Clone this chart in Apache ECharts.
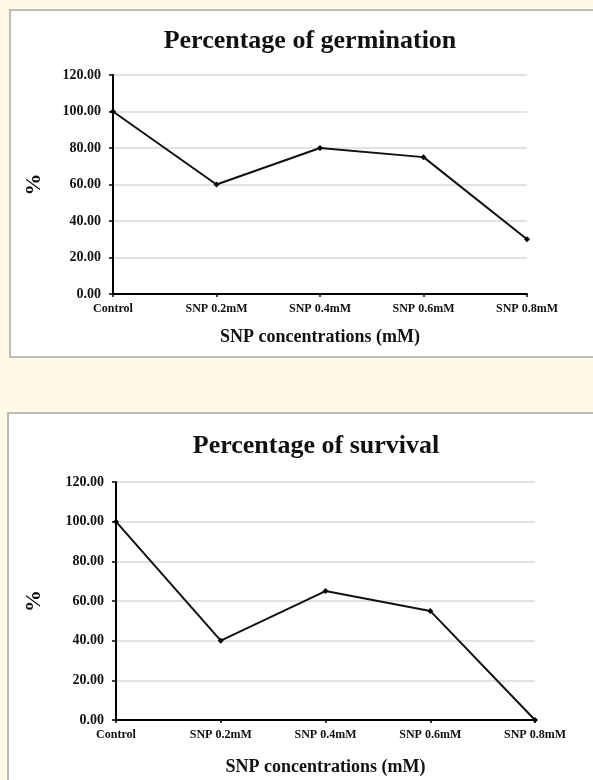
<!DOCTYPE html>
<html><head><meta charset="utf-8">
<script src="https://cdn.jsdelivr.net/npm/echarts@6/dist/echarts.min.js"></script>
<style>html,body{margin:0;padding:0;background:#FFFAE6;}#c{width:593px;height:780px;}</style>
</head><body><div id="c"></div>
<script>
const categories = ['Control', 'SNP 0.2mM', 'SNP 0.4mM', 'SNP 0.6mM', 'SNP 0.8mM'];
const germination = [100, 60, 80, 75, 30];
const survival = [100, 40, 65, 55, 0];
const titles = ['Percentage of germination', 'Percentage of survival'];
const xName = 'SNP concentrations (mM)';
const yName = '%';

const F = 'Liberation Serif';
const chart = echarts.init(document.getElementById('c'), null, {renderer: 'canvas'});

function xAxis(gi, gap) {
  return {
    type: 'category', gridIndex: gi, data: categories, boundaryGap: false,
    axisLine: {lineStyle: {color: '#000', width: 2}},
    axisTick: {show: true, alignWithLabel: true, length: 3, lineStyle: {color: '#000', width: 1.5}},
    axisLabel: {color: '#111', fontFamily: F, fontWeight: 'bold', fontSize: 12, margin: 9},
    name: xName, nameLocation: 'middle', nameGap: gap,
    nameTextStyle: {color: '#111', fontFamily: F, fontWeight: 'bold', fontSize: 18}
  };
}
function yAxis(gi, gap) {
  return {
    type: 'value', gridIndex: gi, min: 0, max: 120, interval: 20,
    axisLine: {show: true, lineStyle: {color: '#000', width: 2}},
    axisTick: {show: true, inside: false, length: 4, lineStyle: {color: '#000', width: 1.5}},
    splitLine: {lineStyle: {color: '#d9d9d9', width: 1.5}},
    axisLabel: {color: '#111', fontFamily: F, fontWeight: 'bold', fontSize: 14, margin: 12,
      formatter: v => v.toFixed(2)},
    name: yName, nameLocation: 'middle', nameRotate: 90, nameGap: gap,
    nameTextStyle: {color: '#111', fontFamily: F, fontWeight: 'bold', fontSize: 22}
  };
}
function series(gi, data) {
  return {
    type: 'line', xAxisIndex: gi, yAxisIndex: gi, data: data,
    symbol: 'diamond', symbolSize: 6, showSymbol: true,
    itemStyle: {color: '#000'}, lineStyle: {color: '#111', width: 2},
    animation: false, z: 5
  };
}

chart.setOption({
  backgroundColor: '#FFFAE6',
  animation: false,
  graphic: [
    {type: 'rect', shape: {x: 10, y: 10, width: 620, height: 347}, style: {fill: '#fff', stroke: '#bdbdb5', lineWidth: 2}, z: -10},
    {type: 'rect', shape: {x: 8, y: 413, width: 620, height: 420}, style: {fill: '#fff', stroke: '#bdbdb5', lineWidth: 2}, z: -10}
  ],
  title: [
    {text: titles[0], left: 305, top: 23, textAlign: 'center',
      textStyle: {fontFamily: F, fontWeight: 'bold', fontSize: 26, color: '#111'}},
    {text: titles[1], left: 311, top: 428, textAlign: 'center',
      textStyle: {fontFamily: F, fontWeight: 'bold', fontSize: 26, color: '#111'}}
  ],
  grid: [
    {left: 113, top: 75, width: 414, height: 219},
    {left: 116, top: 482, width: 419, height: 238}
  ],
  xAxis: [xAxis(0, 34), xAxis(1, 38)],
  yAxis: [yAxis(0, 68), yAxis(1, 71)],
  series: [series(0, germination), series(1, survival)]
});
</script></body></html>
